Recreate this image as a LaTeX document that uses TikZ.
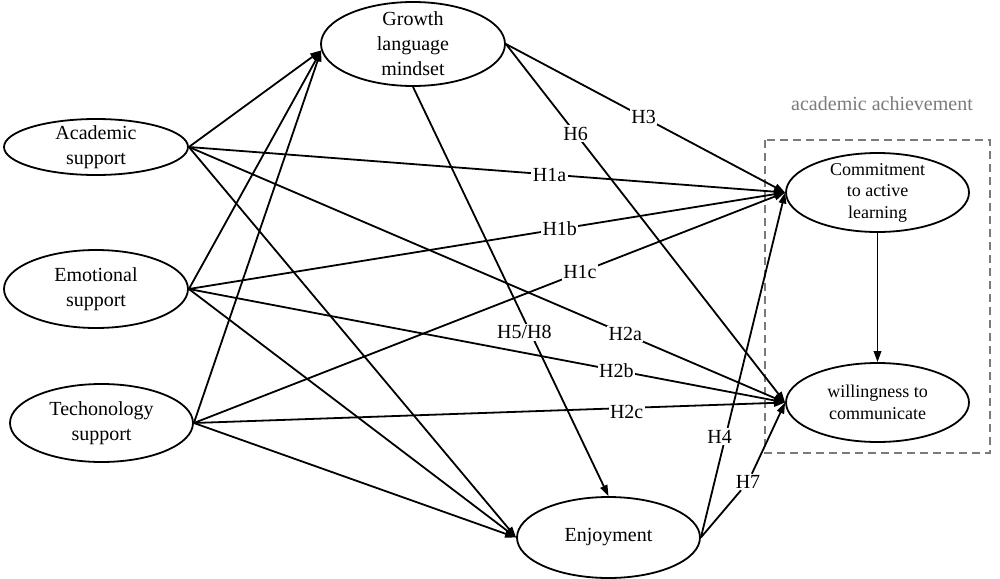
\documentclass[tikz,border=0pt]{standalone}
\usepackage{fontspec}
\setmainfont{Liberation Serif}
\usetikzlibrary{shapes.geometric,arrows.meta}
\definecolor{achgray}{RGB}{122,122,122}

\begin{document}
\begin{tikzpicture}[x=1pt,y=-1pt,
	construct/.style={ellipse,draw,line width=1.8pt,inner sep=0pt},
	cname/.style={align=center,font=\fontsize{20}{25}\selectfont},
	oname/.style={align=center,font=\fontsize{18}{21.5}\selectfont},
	link/.style={line width=1.8pt,-{Triangle[length=11pt,width=7.5pt]}},
	hyp/.style={fill=white,inner sep=1.5pt,font=\fontsize{20}{24}\selectfont}]
			%%%%% START %%%%%
			\useasboundingbox (0,0) rectangle (1000,578);
			
			\draw[achgray,line width=1.6pt,dash pattern=on 8pt off 5pt] (765,140) rectangle (990,453);
			\node[text=achgray,font=\fontsize{20}{24}\selectfont] (achlbl) at (882,104) {academic achievement};
			
			\node[construct,minimum width=184pt,minimum height=84pt,label={[cname]center:Growth\\language\\mindset}] (growth) at (413,44) {};
			\node[construct,minimum width=184pt,minimum height=56pt,label={[cname]center:Academic\\support}] (acad) at (96,147) {};
			\node[construct,minimum width=184pt,minimum height=78pt,label={[cname]center:Emotional\\support}] (emot) at (96,289) {};
			\node[construct,minimum width=183pt,minimum height=78pt,label={[cname]center:Techonology\\support}] (tech) at (101.5,423) {};
			\node[construct,minimum width=183pt,minimum height=81pt,label={[cname]center:Enjoyment}] (enjoy) at (608.5,537.5) {};
			\node[construct,minimum width=183pt,minimum height=79pt,label={[oname]center:Commitment\\to active\\learning}] (commit) at (877.5,192.5) {};
			\node[construct,minimum width=183pt,minimum height=79pt,label={[oname]center:willingness to\\communicate}] (will) at (877.5,402.5) {};
			
			\draw[link] (acad.east) -- (growth.184);
			\draw[link] (emot.east) -- (growth.184);
			\draw[link] (tech.east) -- (growth.184);
			
			\draw[link] (acad.east) -- (enjoy.west);
			\draw[link] (emot.east) -- (enjoy.west);
			\draw[link] (tech.east) -- (enjoy.west);
			
			\draw[link] (acad.east) -- node[hyp,pos=0.605] {H1a} (commit.west);
			\draw[link] (emot.east) -- node[hyp,pos=0.622] {H1b} (commit.west);
			\draw[link] (tech.east) -- node[hyp,pos=0.653] {H1c} (commit.west);
			
			\draw[link] (acad.east) -- node[hyp,pos=0.732] {H2a} (will.west);
			\draw[link] (emot.east) -- node[hyp,pos=0.717] {H2b} (will.west);
			\draw[link] (tech.east) -- node[hyp,pos=0.732,yshift=-4pt] {H2c} (will.west);
			
			\draw[link] (growth.east) -- node[hyp,pos=0.493] {H3} (commit.west);
			\draw[link] (growth.east) -- node[hyp,pos=0.25] {H6} (will.west);
			\draw[link] (growth.south) -- node[hyp,pos=0.6,xshift=-6pt] {H5/H8} (enjoy.north);
			
			\draw[link] (enjoy.east) -- node[hyp,pos=0.293,xshift=-6pt] {H4} (commit.west);
			\node[hyp] (h7) at (748,482) {H7};
			\draw[line width=1.8pt] (enjoy.east) -- (h7);
			\draw[link] (h7) -- (will.west);
			
			\draw[link] (commit.south) -- (will.north);
			%%%%% END %%%%%
		\end{tikzpicture}
\end{document}
